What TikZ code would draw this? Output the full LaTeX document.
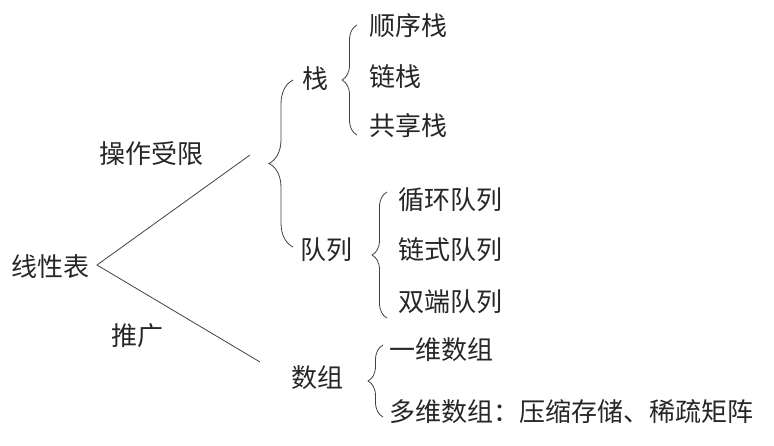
\documentclass[tikz,border=0pt]{standalone}
\usepackage{fontspec}
\newfontfamily\cjk{Noto Sans CJK SC}
\usetikzlibrary{decorations.pathreplacing,positioning}

\begin{document}
\begin{tikzpicture}[x=1pt,y=-1pt]
\tikzset{every node/.style={font=\cjk\fontsize{26}{30}\selectfont, text=black!85, inner sep=0pt}}
\tikzset{item/.style={anchor=west}}
\tikzset{kuohao/.style={decorate, decoration={brace,amplitude=#1}, draw=black!75, line width=0.8pt}}
\useasboundingbox (0,0) rectangle (774,445);
				\node[item] (xianxing) at (11,267) {线性表};
				\coordinate (apex) at (97,265);
				\coordinate (shangduan) at (250,155);
				\coordinate (xiaduan) at (260,362);
				\draw[black!75, line width=0.8pt] (shangduan) -- (apex) -- (xiaduan);
				\node (shouxian) at (151,154) {操作受限};
				\node (tuiguang) at (137,336) {推广};
				\draw[kuohao=24] (293,247) -- (293,80);
				\node (zhan) at (315,79) {栈};
				\node (duilie) at (326,250) {队列};
				\node (shuzu) at (317,378) {数组};
				\draw[kuohao=15] (357,135) -- (357,25);
				\node[item] (shunxu) at (369,26) {顺序栈};
				\node[item] (lianzhan) at (369,77) {链栈};
				\node[item] (gongxiang) at (369,126) {共享栈};
				\draw[kuohao=15] (387,318) -- (387,192);
				\node[item] (xunhuan) at (398,200) {循环队列};
				\node[item] (lianshi) at (398,250) {链式队列};
				\node[item] (shuangduan) at (398,302) {双端队列};
				\draw[kuohao=15] (383,417) -- (383,345);
				\node[item] (yiwei) at (389,350) {一维数组};
				\node[item] (duowei) at (389,412) {多维数组：压缩存储、稀疏矩阵};
\end{tikzpicture}
\end{document}
